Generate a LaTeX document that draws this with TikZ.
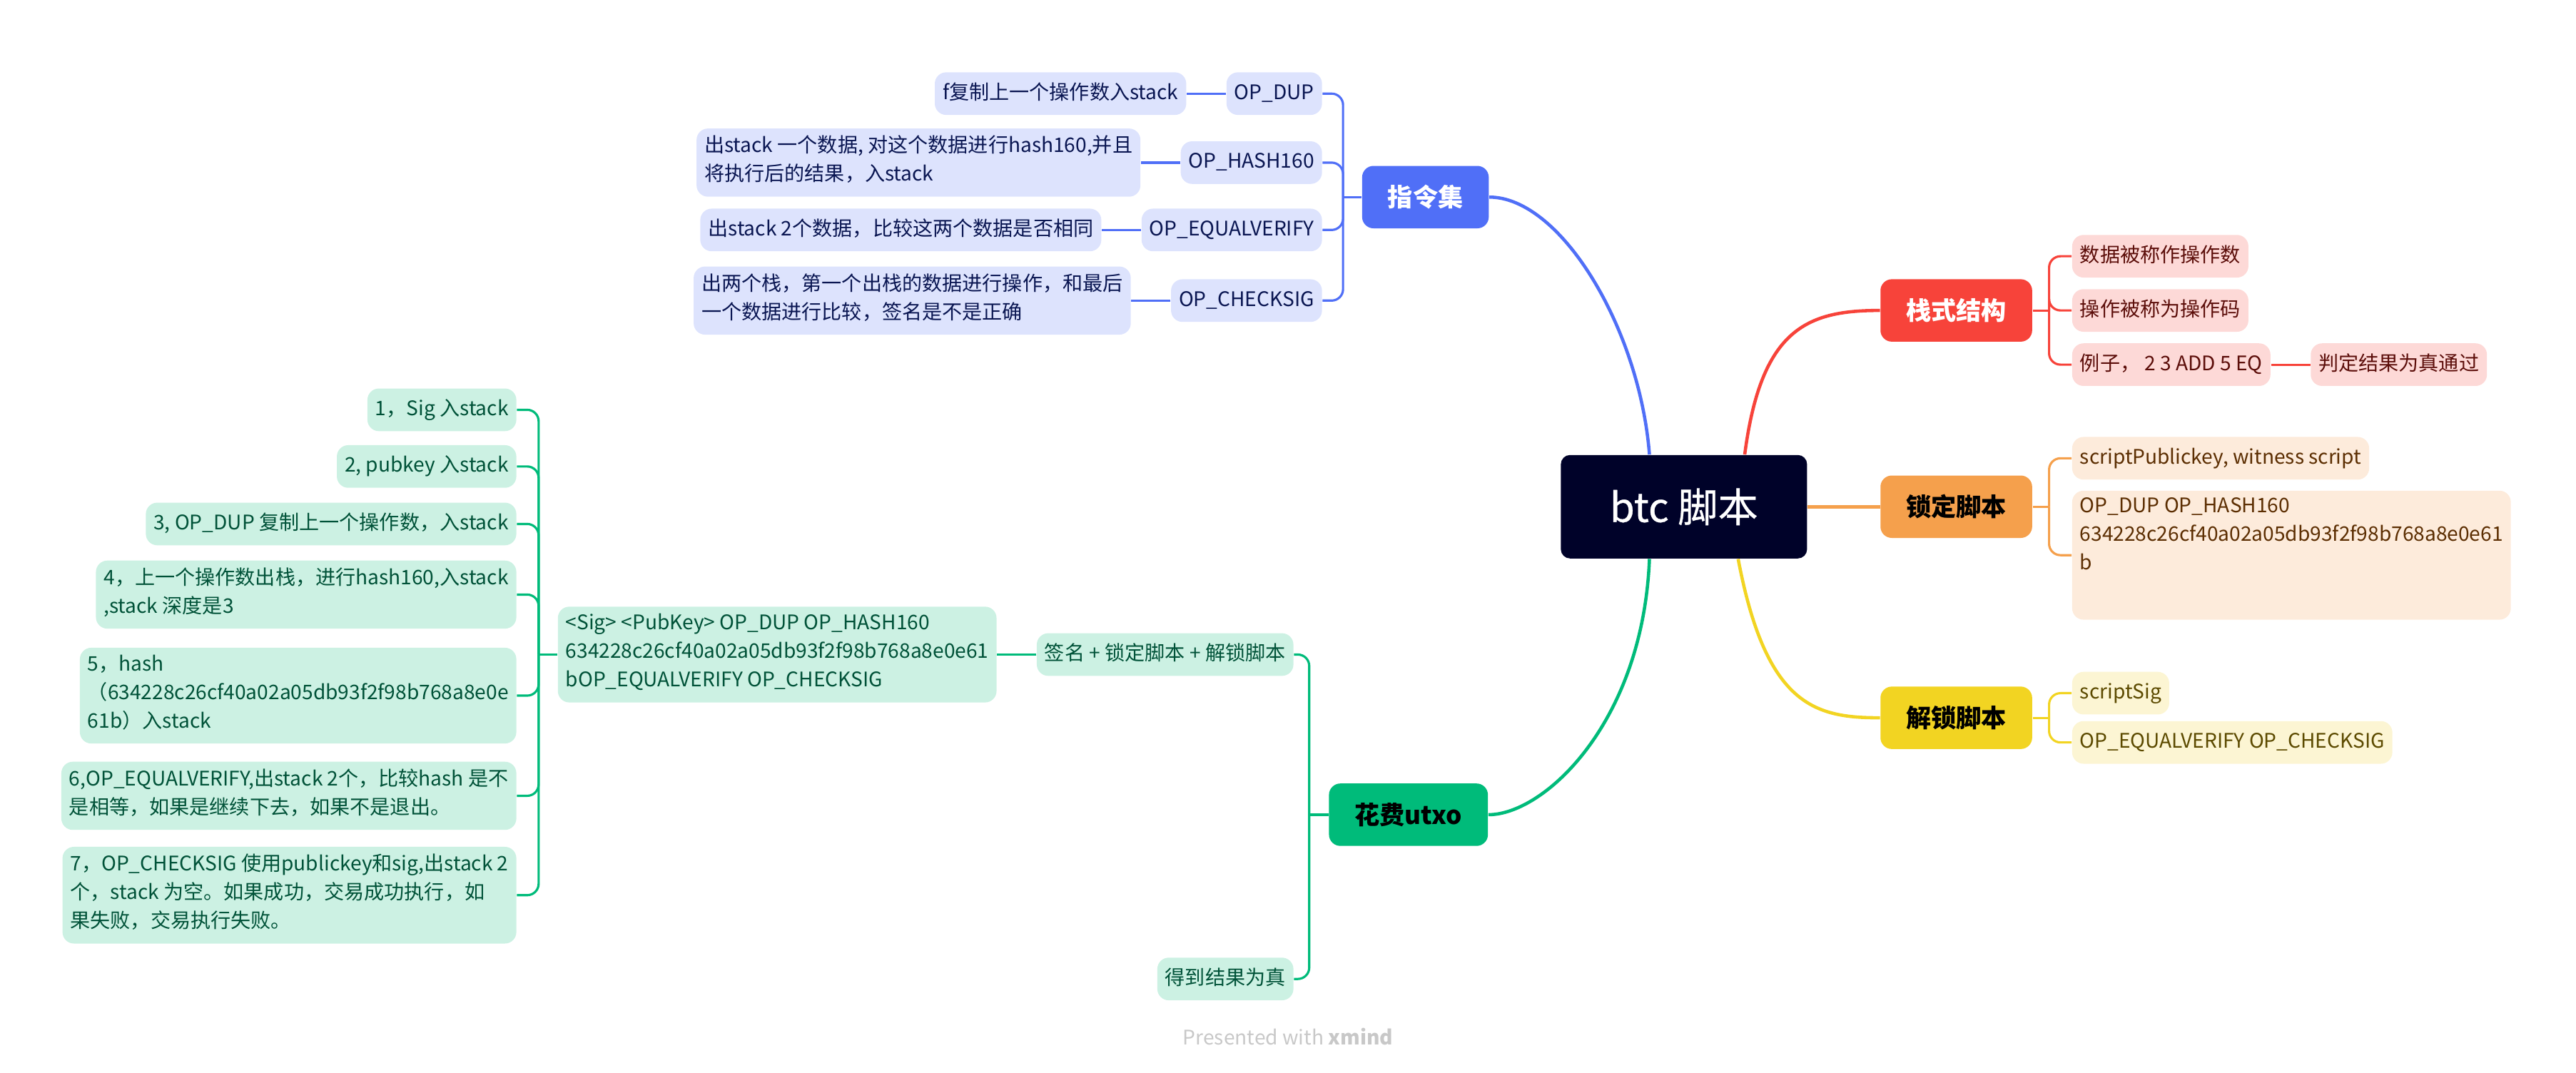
\documentclass[tikz,border=0pt]{standalone}
\usepackage{fontspec}
\setmainfont{Noto Sans CJK SC}
\newfontfamily\rootfont{Noto Sans CJK SC}[FakeBold=0.6]
\usetikzlibrary{positioning,calc}

\definecolor{rootbg}{RGB}{0,2,41}
\definecolor{zlblue}{RGB}{80,111,247}
\definecolor{zlfill}{RGB}{221,227,253}
\definecolor{zltext}{RGB}{10,22,82}
\definecolor{stred}{RGB}{247,67,58}
\definecolor{stfill}{RGB}{253,217,215}
\definecolor{sttext}{RGB}{92,14,10}
\definecolor{sdorange}{RGB}{245,160,76}
\definecolor{sdfill}{RGB}{253,235,219}
\definecolor{sdtext}{RGB}{92,46,2}
\definecolor{jsyellow}{RGB}{242,212,34}
\definecolor{jsfill}{RGB}{252,245,211}
\definecolor{jstext}{RGB}{92,74,0}
\definecolor{hfgreen}{RGB}{0,187,122}
\definecolor{hffill}{RGB}{204,241,227}
\definecolor{hftext}{RGB}{0,82,56}
\definecolor{markgray}{RGB}{200,200,200}

\begin{document}
\begin{tikzpicture}[
    x=0.2302mm, y=-0.2302mm,
    rootbox/.style={fill=rootbg, text=white, rounded corners=1.3mm, minimum width=34.5mm, minimum height=14.5mm, font=\rootfont\fontsize{16}{19}\selectfont},
    topicbox/.style={rounded corners=1.6mm, minimum height=8.75mm, inner xsep=3.6mm, font=\fontsize{10}{12}\selectfont\bfseries},
    leafbox/.style={rounded corners=1.6mm, inner xsep=1.1mm, inner ysep=2.8pt, align=left, font=\fontsize{8}{11.4}\selectfont, execute at begin node=\strut, execute at end node=\strut},
    zlleaf/.style={leafbox, fill=zlfill, text=zltext},
    stleaf/.style={leafbox, fill=stfill, text=sttext},
    sdleaf/.style={leafbox, fill=sdfill, text=sdtext},
    jsleaf/.style={leafbox, fill=jsfill, text=jstext},
    hfleaf/.style={leafbox, fill=hffill, text=hftext},
    mainline/.style={line width=1.3pt},
    branch/.style={line width=0.9pt, rounded corners=1.6mm}
]
\useasboundingbox (0,0) rectangle (1568,653.25);

% Central topic
\node[rootbox] (root) at (1025,308.5) {btc 脚本};

% Main topics
\node[topicbox, fill=zlblue, text=white, anchor=east] (zl) at (906.5,120) {指令集};
\node[topicbox, fill=stred, text=white, anchor=west] (st) at (1144.3,189) {栈式结构};
\node[topicbox, fill=sdorange, text=black, anchor=west] (sd) at (1144.3,308.5) {锁定脚本};
\node[topicbox, fill=jsyellow, text=black, anchor=west] (js) at (1144.3,437) {解锁脚本};
\node[topicbox, fill=hfgreen, text=black, anchor=east] (hf) at (906,496) {花费utxo};

% Curves from the centre
\draw[mainline, zlblue] ($(root.north)+(-21,0)$) .. controls (998,200) and (950,120) .. (zl.east);
\draw[mainline, stred] ($(root.north)+(37,0)$) .. controls (1072,200) and (1100,189) .. (st.west);
\draw[mainline, sdorange] (root.east) -- (sd.west);
\draw[mainline, jsyellow] ($(root.south)+(33,0)$) .. controls (1075,430) and (1105,437) .. (js.west);
\draw[mainline, hfgreen] ($(root.south)+(-21,0)$) .. controls (1000,440) and (940,496) .. (hf.east);

% 指令集
\node[zlleaf, anchor=east] (zldup) at (805,57) {OP\_DUP};
\node[zlleaf, anchor=east] (zlhash) at (805,99) {OP\_HASH160};
\node[zlleaf, anchor=east] (zleq) at (805,140) {OP\_EQUALVERIFY};
\node[zlleaf, anchor=east] (zlcheck) at (805,183) {OP\_CHECKSIG};
\node[zlleaf, left=5.5mm of zldup] (zldupd) {f复制上一个操作数入stack};
\node[zlleaf, left=5.5mm of zlhash] (zlhashd) {出stack 一个数据, 对这个数据进行hash160,并且\\将执行后的结果，入stack};
\node[zlleaf, left=5.5mm of zleq] (zleqd) {出stack 2个数据，比较这两个数据是否相同};
\node[zlleaf, left=5.5mm of zlcheck] (zlcheckd) {出两个栈，第一个出栈的数据进行操作，和最后\\一个数据进行比较，签名是不是正确};

\coordinate (zlb) at ($(zl.west)+(-11.3,0)$);
\draw[branch, zlblue] (zl.west) -- (zlb);
\draw[branch, zlblue] (zlb) |- (zldup.east);
\draw[branch, zlblue] (zlb) |- (zlhash.east);
\draw[branch, zlblue] (zlb) |- (zleq.east);
\draw[branch, zlblue] (zlb) |- (zlcheck.east);
\draw[branch, zlblue] (zldup) -- (zldupd);
\draw[branch, zlblue] (zlhash) -- (zlhashd);
\draw[branch, zlblue] (zleq) -- (zleqd);
\draw[branch, zlblue] (zlcheck) -- (zlcheckd);

% 栈式结构
\node[stleaf, anchor=west] (st1) at (1261,156) {数据被称作操作数};
\node[stleaf, anchor=west] (st2) at (1261,189) {操作被称为操作码};
\node[stleaf, anchor=west] (st3) at (1261,222) {例子， 2 3 ADD 5 EQ};
\node[stleaf, right=5.5mm of st3] (st4) {判定结果为真通过};

\coordinate (stb) at ($(st.east)+(10,0)$);
\draw[branch, stred] (st.east) -- (stb);
\draw[branch, stred] (stb) |- (st1.west);
\draw[branch, stred] (stb) |- (st2.west);
\draw[branch, stred] (stb) |- (st3.west);
\draw[branch, stred] (st3) -- (st4);

% 锁定脚本
\node[sdleaf, anchor=west] (sd1) at (1261,279) {scriptPublickey, witness script};
\node[sdleaf, anchor=west, minimum width=60.5mm] (sd2) at (1261,338) {OP\_DUP OP\_HASH160\\634228c26cf40a02a05db93f2f98b768a8e0e61\\b\rule[-6mm]{0pt}{0pt}};

\coordinate (sdb) at ($(sd.east)+(10,0)$);
\draw[branch, sdorange] (sd.east) -- (sdb);
\draw[branch, sdorange] (sdb) |- (sd1.west);
\draw[branch, sdorange] (sdb) |- (sd2.west);

% 解锁脚本
\node[jsleaf, anchor=west] (js1) at (1261,422) {scriptSig};
\node[jsleaf, anchor=west] (js2) at (1261,452) {OP\_EQUALVERIFY OP\_CHECKSIG};

\coordinate (jsb) at ($(js.east)+(10,0)$);
\draw[branch, jsyellow] (js.east) -- (jsb);
\draw[branch, jsyellow] (jsb) |- (js1.west);
\draw[branch, jsyellow] (jsb) |- (js2.west);

% 花费utxo
\node[hfleaf, anchor=east] (hfsum) at (787.6,398.5) {签名 + 锁定脚本 + 解锁脚本};
\node[hfleaf, anchor=east] (hftrue) at (787.6,596) {得到结果为真};
\node[hfleaf, left=5.5mm of hfsum] (hfsig) {<Sig> <PubKey> OP\_DUP OP\_HASH160\\634228c26cf40a02a05db93f2f98b768a8e0e61\\bOP\_EQUALVERIFY OP\_CHECKSIG};

\coordinate (hfb) at ($(hf.west)+(-11.7,0)$);
\draw[branch, hfgreen] (hf.west) -- (hfb);
\draw[branch, hfgreen] (hfb) |- (hfsum.east);
\draw[branch, hfgreen] (hfb) |- (hftrue.east);
\draw[branch, hfgreen] (hfsum) -- (hfsig);

% Steps
\node[hfleaf, anchor=east] (step1) at (314.6,249.5) {1，Sig 入stack};
\node[hfleaf, anchor=east] (step2) at (314.6,284) {2, pubkey 入stack};
\node[hfleaf, anchor=east] (step3) at (314.6,319) {3, OP\_DUP 复制上一个操作数，入stack};
\node[hfleaf, anchor=east] (step4) at (314.6,362) {4，上一个操作数出栈，进行hash160,入stack\\,stack 深度是3};
\node[hfleaf, anchor=east] (step5) at (314.6,423.5) {5，hash\\（634228c26cf40a02a05db93f2f98b768a8e0e\\61b）入stack};
\node[hfleaf, anchor=east] (step6) at (314.6,484.5) {6,OP\_EQUALVERIFY,出stack 2个，比较hash 是不\\是相等，如果是继续下去，如果不是退出。};
\node[hfleaf, anchor=east] (step7) at (314.6,545) {7，OP\_CHECKSIG 使用publickey和sig,出stack 2\\个，stack 为空。如果成功，交易成功执行，如\\果失败，交易执行失败。};

\coordinate (sigb) at ($(hfsig.west)+(-11.4,0)$);
\draw[branch, hfgreen] (hfsig.west) -- (sigb);
\draw[branch, hfgreen] (sigb) |- (step1.east);
\draw[branch, hfgreen] (sigb) |- (step2.east);
\draw[branch, hfgreen] (sigb) |- (step3.east);
\draw[branch, hfgreen] (sigb) |- (step4.east);
\draw[branch, hfgreen] (sigb) |- (step5.east);
\draw[branch, hfgreen] (sigb) |- (step6.east);
\draw[branch, hfgreen] (sigb) |- (step7.east);

% Footer
\node[text=markgray, font=\fontsize{8}{10}\selectfont] (mark) at (784,631) {Presented with \textbf{xmind}};

\end{tikzpicture}
\end{document}
